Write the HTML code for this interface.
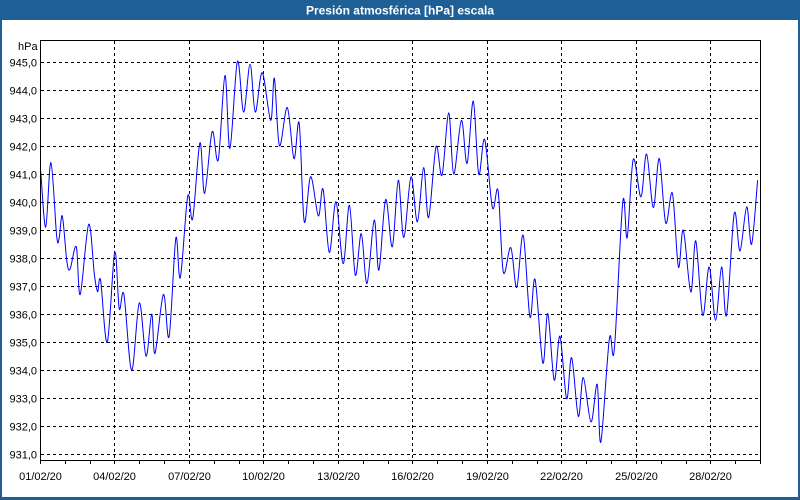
<!DOCTYPE html>
<html><head><meta charset="utf-8"><style>
html,body{margin:0;padding:0;width:800px;height:500px;overflow:hidden;background:#fff}
svg{display:block}
text{font-family:"Liberation Sans",sans-serif;font-size:11px;fill:#000}
</style></head><body>
<svg id="chart" width="800" height="500" xmlns="http://www.w3.org/2000/svg">
<rect x="0" y="0" width="800" height="500" fill="#1e5f96"/>
<rect x="2" y="20" width="796" height="477" fill="#ffffff"/>
<text x="400" y="14.5" text-anchor="middle" style="font-weight:bold;font-size:12px;fill:#fff">Presión atmosférica [hPa] escala</text>
<text x="18" y="50">hPa</text>
<g id="grid"></g>
<g id="axes"></g>
<path id="line" fill="none" stroke="#0000ff" stroke-width="1"/>
<rect x="40.5" y="40.5" width="720" height="420" fill="none" stroke="#000"/>
</svg>
<script>
const days = [0.03,0.23,0.44,0.67,0.77,0.90,1.08,1.21,1.46,1.62,1.96,2.19,2.32,2.44,2.71,3.01,3.19,3.38,3.69,4.00,4.27,4.50,4.63,4.97,5.20,5.47,5.65,5.95,6.15,6.44,6.63,6.93,7.18,7.45,7.65,7.95,8.20,8.46,8.67,8.95,9.29,9.44,9.64,9.96,10.23,10.44,10.64,10.90,11.21,11.40,11.65,11.92,12.21,12.46,12.70,12.94,13.17,13.46,13.65,13.92,14.19,14.43,14.65,14.94,15.20,15.45,15.65,15.95,16.19,16.46,16.66,16.97,17.20,17.45,17.67,17.91,18.22,18.45,18.66,18.96,19.20,19.46,19.73,19.94,20.25,20.45,20.71,20.94,21.21,21.41,21.68,21.88,22.19,22.44,22.59,22.93,23.13,23.47,23.65,23.89,24.20,24.43,24.70,24.94,25.20,25.47,25.71,25.91,26.21,26.41,26.69,26.95,27.21,27.45,27.65,27.96,28.19,28.46,28.66,28.90];
const pressure = [941.1,939.1,941.4,938.8,938.7,939.5,937.9,937.6,938.4,936.7,939.2,937.4,936.8,937.2,935.0,938.2,936.2,936.7,934.0,936.4,934.5,936.0,934.6,936.7,935.2,938.7,937.3,940.2,939.4,942.1,940.3,942.5,941.5,944.5,941.9,945.0,943.2,944.9,943.2,944.6,942.9,944.4,942.0,943.36,941.54,942.8,939.3,940.9,939.5,940.45,938.2,940.0,937.8,939.88,937.39,938.87,937.09,939.35,937.57,940.08,938.4,940.77,938.73,940.89,939.29,941.22,939.44,941.96,940.95,943.17,940.99,942.9,941.37,943.59,940.99,942.22,939.8,940.39,937.5,938.37,936.95,938.81,935.9,937.23,934.26,936.02,933.65,935.21,932.99,934.45,932.36,933.74,932.16,933.5,931.45,935.13,934.74,940.0,938.73,941.51,940.18,941.7,939.8,941.54,939.25,940.3,937.68,938.99,936.79,938.61,935.96,937.68,935.78,937.68,935.96,939.58,938.25,939.82,938.49,940.77];
const yTicks = [931,932,933,934,935,936,937,938,939,940,941,942,943,944,945];
const xTickDays = [0,3,6,9,12,15,18,21,24,27];
const xTickLabels = ["01/02/20","04/02/20","07/02/20","10/02/20","13/02/20","16/02/20","19/02/20","22/02/20","25/02/20","28/02/20"];

const X0=40, PXD=24.83, Y945=61.5, PXH=28.07;
function xs(d){return X0+d*PXD;}
function ys(v){return Y945-(v-945)*-1*-PXH*-1 ;}
function ysc(v){return Y945+(945-v)*PXH;}
const NS="http://www.w3.org/2000/svg";
const grid=document.getElementById('grid'), axes=document.getElementById('axes');
function mk(tag,attrs,parent){const e=document.createElementNS(NS,tag);for(const k in attrs)e.setAttribute(k,attrs[k]);parent.appendChild(e);return e;}
yTicks.forEach(v=>{
  const y=Math.round(ysc(v))+0.5;
  const l=mk('line',{x1:41,x2:760,y1:y,y2:y,stroke:'#000','stroke-dasharray':'3,3'},grid);
  
  
  const t=mk('text',{x:37,y:y+4,'text-anchor':'end'},axes);
  t.textContent=v.toFixed(1).replace('.',',');
  
  
});
xTickDays.forEach((d,i)=>{
  const x=Math.round(xs(d))+0.5;
  if(d>0){
    const l=mk('line',{x1:x,x2:x,y1:41,y2:460,stroke:'#000','stroke-dasharray':'3,3'},grid);
    
    
  }
  const t=mk('text',{x:x,y:480,'text-anchor':'middle'},axes);
  t.textContent=xTickLabels[i];
  
  
});
for(let d=0;d<=29;d++){
  const x=Math.round(xs(d))+0.5;
  const l=mk('line',{x1:x,x2:x,y1:460,y2:464,stroke:'#000'},axes);
  
  
}
const pts=days.map((d,i)=>[xs(d),ysc(pressure[i])]);
let p='M'+pts[0][0].toFixed(1)+','+pts[0][1].toFixed(1);
for(let i=0;i<pts.length-1;i++){
  const p0=pts[Math.max(0,i-1)],p1=pts[i],p2=pts[i+1],p3=pts[Math.min(pts.length-1,i+2)];
  const c1=[p1[0]+(p2[0]-p0[0])/6,p1[1]+(p2[1]-p0[1])/6];
  const c2=[p2[0]-(p3[0]-p1[0])/6,p2[1]-(p3[1]-p1[1])/6];
  p+=' C'+c1[0].toFixed(1)+','+c1[1].toFixed(1)+' '+c2[0].toFixed(1)+','+c2[1].toFixed(1)+' '+p2[0].toFixed(1)+','+p2[1].toFixed(1);
}
document.getElementById('line').setAttribute('d',p);
</script>
</body></html>
